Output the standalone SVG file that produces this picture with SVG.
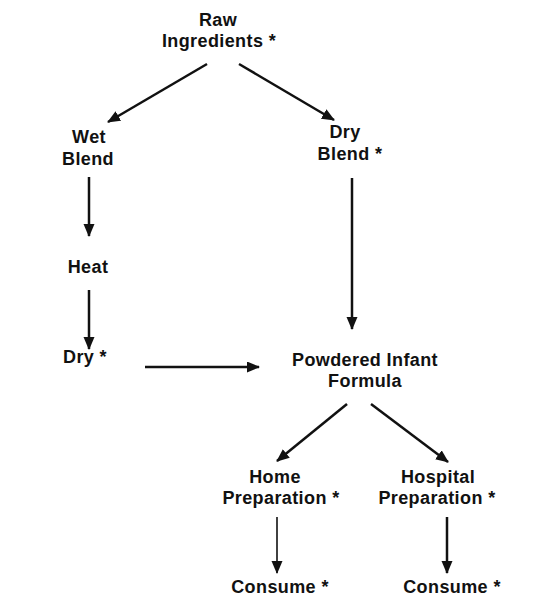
<svg xmlns="http://www.w3.org/2000/svg" width="536" height="610" viewBox="0 0 536 610">
<defs>
<style>
text{font-family:"Liberation Sans",Arial,sans-serif;font-weight:bold;font-size:18px;letter-spacing:0.4px;fill:#111;}
.c line{stroke:#111;stroke-width:2.5;marker-end:url(#ah);}
.c line.thin{stroke-width:1.6;}
</style>
<marker id="ah" markerUnits="userSpaceOnUse" markerWidth="14" markerHeight="12" refX="12" refY="5.5" orient="auto">
<path d="M0,0 L13,5.5 L0,11 z" fill="#111"/>
</marker>
</defs>
<rect width="536" height="610" fill="#fff"/>
<g id="raw"><text x="218" y="26" text-anchor="middle">Raw</text><text x="219" y="47" text-anchor="middle">Ingredients *</text></g>
<g id="wet"><text x="89" y="143" text-anchor="middle">Wet</text><text x="88" y="165" text-anchor="middle">Blend</text></g>
<g id="dryblend"><text x="345" y="138" text-anchor="middle">Dry</text><text x="350" y="160" text-anchor="middle">Blend *</text></g>
<g id="heat"><text x="88" y="273" text-anchor="middle">Heat</text></g>
<g id="dry"><text x="85" y="363" text-anchor="middle">Dry *</text></g>
<g id="pif"><text x="365" y="366" text-anchor="middle">Powdered Infant</text><text x="365" y="387" text-anchor="middle">Formula</text></g>
<g id="home"><text x="275" y="483" text-anchor="middle">Home</text><text x="281" y="504" text-anchor="middle">Preparation *</text></g>
<g id="hospital"><text x="438" y="483" text-anchor="middle">Hospital</text><text x="437" y="504" text-anchor="middle">Preparation *</text></g>
<g id="consume1"><text x="280" y="593" text-anchor="middle">Consume *</text></g>
<g id="consume2"><text x="452" y="593" text-anchor="middle">Consume *</text></g>
<g class="c" id="connectors">
<line x1="207" y1="64" x2="108" y2="122"/>
<line x1="239" y1="64" x2="334" y2="120"/>
<line x1="89" y1="177" x2="89" y2="236"/>
<line x1="89" y1="290" x2="89" y2="349"/>
<line x1="145" y1="367" x2="259" y2="367"/>
<line x1="352" y1="178" x2="352" y2="329"/>
<line x1="347" y1="404" x2="277" y2="461"/>
<line x1="371" y1="404" x2="448" y2="462"/>
<line class="thin" x1="277" y1="517" x2="277" y2="573"/>
<line x1="447" y1="517" x2="447" y2="573"/>
</g>
</svg>
